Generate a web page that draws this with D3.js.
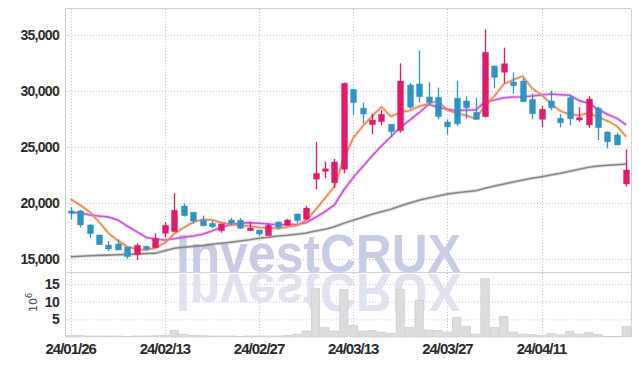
<!DOCTYPE html>
<html>
<head>
<meta charset="utf-8">
<script src="https://cdn.jsdelivr.net/npm/d3@7"></script>
<style>
  html, body { margin: 0; padding: 0; background: #fff; }
  svg { display: block; }
  .tick-label { font-family: "Liberation Sans", Arial, sans-serif; font-weight: bold; fill: #2a2a2a; }
</style>
</head>
<body>
<svg id="chart" width="639" height="366"></svg>
<script>
(function() {
    'use strict';

    const dates = [
        '24/01/26', '24/01/29', '24/01/30', '24/01/31', '24/02/01', '24/02/02', '24/02/05', '24/02/06', '24/02/07', '24/02/08',
        '24/02/13', '24/02/14', '24/02/15', '24/02/16', '24/02/19', '24/02/20', '24/02/21', '24/02/22', '24/02/23', '24/02/26',
        '24/02/27', '24/02/28', '24/02/29', '24/03/04', '24/03/05', '24/03/06', '24/03/07', '24/03/08', '24/03/11', '24/03/12',
        '24/03/13', '24/03/14', '24/03/15', '24/03/18', '24/03/19', '24/03/20', '24/03/21', '24/03/22', '24/03/25', '24/03/26',
        '24/03/27', '24/03/28', '24/03/29', '24/04/01', '24/04/02', '24/04/03', '24/04/04', '24/04/05', '24/04/08', '24/04/09',
        '24/04/11', '24/04/12', '24/04/15', '24/04/16', '24/04/17', '24/04/18', '24/04/19', '24/04/22', '24/04/23', '24/04/24'
    ];

    const open = [
        19290, 19290, 18040, 17140, 16250, 16340, 16070, 15420, 16130, 16010,
        17300, 17440, 19730, 19170, 18480, 18190, 17530, 18480, 18460, 17530,
        17590, 17080, 18300, 18010, 19020, 18550, 22120, 22830, 21810, 23010,
        30150, 28460, 26990, 27260, 27030, 26460, 30540, 30630, 29470, 29440,
        27230, 29350, 29110, 28100, 27710, 32230, 31670, 30800, 30890, 29260,
        27470, 29110, 27560, 29400, 27410, 26970, 28460, 26340, 26070, 21700
    ];
    const high = [
        19620, 19380, 18100, 17170, 16610, 16760, 16070, 16400, 16200, 17300,
        18300, 20870, 19970, 19170, 18870, 18390, 18150, 18660, 18630, 18330,
        17600, 18190, 18350, 18570, 19050, 19730, 25450, 23690, 23930, 30750,
        30200, 28960, 27950, 28300, 27050, 32470, 30720, 33600, 30780, 30300,
        27470, 30920, 29530, 29400, 35510, 32260, 33870, 31670, 31140, 29800,
        28660, 30030, 27950, 29640, 28550, 29550, 28600, 26400, 26280, 24800
    ];
    const low = [
        18550, 17830, 16850, 16250, 15710, 15800, 15030, 14910, 15750, 16000,
        16940, 17440, 18800, 18130, 17900, 17740, 17350, 18010, 17700, 17480,
        17050, 17050, 17650, 17980, 18240, 18500, 21220, 22210, 21340, 22650,
        27860, 27120, 26130, 26940, 25870, 26280, 28370, 28960, 28660, 27470,
        26130, 26880, 27530, 27450, 27650, 30240, 30690, 29730, 29000, 27470,
        26760, 28300, 26760, 26940, 27260, 26720, 25630, 24880, 25150, 21460
    ];
    const close = [
        19080, 18040, 17260, 16280, 15890, 15800, 15210, 16220, 15870, 16850,
        18010, 19350, 18870, 18390, 17970, 17880, 18130, 18190, 17740, 17770,
        17230, 18010, 17830, 18480, 18420, 19550, 22650, 23060, 23660, 30690,
        28960, 27950, 27410, 27920, 26370, 30890, 28550, 29490, 28960, 27710,
        26810, 27080, 28510, 27470, 33460, 31220, 32440, 30470, 29050, 27970,
        28370, 28510, 27170, 27530, 27620, 29290, 26720, 25470, 25180, 22950
    ];
    // volume in millions of shares
    const volume = [
        0.5, 0.4, 0.3, 0.3, 0.3, 0.3, 0.2, 0.3, 0.3, 0.4,
        0.5, 1.9, 0.8, 0.5, 0.4, 0.3, 0.3, 0.3, 0.2, 0.3,
        0.3, 0.3, 0.3, 0.4, 0.8, 1.7, 13.7, 2.7, 1.7, 13.4,
        3.3, 1.7, 1.9, 1.4, 1.0, 13.4, 2.7, 10.4, 2.0, 1.9,
        1.4, 5.5, 3.0, 0.8, 16.5, 2.7, 5.8, 1.4, 0.8, 0.7,
        0.5, 1.0, 0.6, 1.6, 0.8, 1.3, 0.8, 0.2, 0.1, 3.0
    ];
    const ma5 = [
        20330, 19820, 19220, 18330, 17310, 16650, 16090, 15880, 15800, 15990,
        16430, 17260, 17790, 18290, 18520, 18490, 18250, 18110, 17980, 17940,
        17810, 17790, 17720, 17860, 17990, 18460, 19390, 20430, 21470, 23920,
        25800, 26860, 27730, 28590, 27720, 28110, 28230, 28640, 28850, 29120,
        28300, 28010, 27810, 27520, 28670, 29550, 30620, 31010, 31330, 30230,
        29660, 28870, 28210, 27910, 27840, 28020, 27670, 27330, 26860, 25920
    ];
    const ma20 = [
        19150, 19130, 18930, 18840, 18750, 18480, 17950, 17440, 16940, 16760,
        16700, 16810, 16940, 17050, 17210, 17500, 17830, 18060, 18220, 18240,
        18190, 18130, 18060, 18060, 18100, 18240, 18720, 19220, 19820, 21160,
        22280, 23240, 24200, 25090, 25920, 26760, 27410, 28060, 28810, 28550,
        28370, 28240, 28300, 28300, 29020, 29200, 29400, 29470, 29490, 29550,
        29640, 29730, 29670, 29620, 29140, 28900, 28370, 27920, 27560, 26970
    ];
    const ma60 = [
        15200, 15250, 15290, 15320, 15350, 15380, 15410, 15440, 15480, 15520,
        15740, 15960, 16050, 16130, 16190, 16310, 16400, 16490, 16610, 16720,
        16850, 16940, 17050, 17120, 17210, 17320, 17500, 17650, 17880, 18190,
        18450, 18720, 18990, 19220, 19440, 19730, 20000, 20240, 20450, 20630,
        20800, 20920, 21010, 21100, 21310, 21520, 21700, 21880, 22050, 22210,
        22350, 22500, 22650, 22830, 23010, 23190, 23300, 23370, 23420, 23480
    ];
    const priceTicks = [15000, 20000, 25000, 30000, 35000];
    const volumeTicks = [5, 10, 15];
    const dateTicks = ['24/01/26', '24/02/13', '24/02/27', '24/03/13', '24/03/27', '24/04/11'];

    const svg = d3.select('#chart');
    const left = 66, right = 631, top = 9, split = 272, bottom = 337;

    const x = d3.scaleBand().domain(dates).range([left, right]).padding(0);
    const cx = d => x(d) + x.bandwidth() / 2;
    const y = d3.scaleLinear().domain([13839, 37322]).range([split, top]);
    const yv = d3.scaleLinear().domain([0, 18.4]).range([bottom, split]);

    const upColor = '#e31a6c', downColor = '#2e93c7';
    const gridColor = '#c6c9dc';

    const defs = svg.append('defs');
    defs.append('clipPath').attr('id', 'priceClip')
        .append('rect').attr('x', left).attr('y', top).attr('width', right - left).attr('height', split - top);
    defs.append('clipPath').attr('id', 'volClip')
        .append('rect').attr('x', left).attr('y', split + 1).attr('width', right - left).attr('height', bottom - split);

    // grid
    const grid = svg.append('g');
    grid.selectAll('.hg').data(priceTicks).enter().append('line')
        .attr('x1', left).attr('x2', right).attr('y1', d => y(d) + 0.5).attr('y2', d => y(d) + 0.5)
        .attr('stroke', gridColor).attr('stroke-dasharray', '1,2');
    grid.selectAll('.vg').data(volumeTicks).enter().append('line')
        .attr('x1', left).attr('x2', right).attr('y1', d => yv(d) + 0.5).attr('y2', d => yv(d) + 0.5)
        .attr('stroke', gridColor).attr('stroke-dasharray', '1,2');
    grid.selectAll('.dg').data(dateTicks).enter().append('line')
        .attr('x1', d => Math.round(cx(d)) + 0.5).attr('x2', d => Math.round(cx(d)) + 0.5)
        .attr('y1', top).attr('y2', bottom)
        .attr('stroke', '#c2c2d2').attr('stroke-dasharray', '1,2');

    // watermark and its reflection
    svg.append('text')
        .attr('clip-path', 'url(#priceClip)')
        .attr('x', 176).attr('y', split)
        .attr('textLength', 285).attr('lengthAdjust', 'spacingAndGlyphs')
        .style('font-family', '"Liberation Sans", Arial, sans-serif')
        .style('font-weight', 'bold').style('font-size', '54px')
        .attr('fill', '#c3c9e2').attr('opacity', 0.92)
        .text('InvestCRUX');
    svg.append('g').attr('clip-path', 'url(#volClip)')
        .append('text')
        .attr('transform', `translate(0,${2 * split + 2}) scale(1,-1)`)
        .attr('x', 176).attr('y', split)
        .attr('textLength', 285).attr('lengthAdjust', 'spacingAndGlyphs')
        .style('font-family', '"Liberation Sans", Arial, sans-serif')
        .style('font-weight', 'bold').style('font-size', '54px')
        .attr('fill', '#dadded').attr('opacity', 0.85)
        .text('InvestCRUX');

    // volume bars
    svg.append('g').selectAll('rect').data(dates).enter().append('rect')
        .attr('x', d => x(d) + 0.5)
        .attr('y', (d, i) => yv(volume[i]))
        .attr('width', x.bandwidth() - 1)
        .attr('height', (d, i) => bottom - yv(volume[i]))
        .attr('fill', '#dcdcdc').attr('stroke', '#c9c9c9').attr('stroke-width', 0.6);

    // moving averages
    const lineFor = arr => d3.line().x((d, i) => cx(dates[i])).y(d => y(d))(arr);
    const lines = [
        { data: ma60, color: '#858585' },
        { data: ma20, color: '#cc4fe3' },
        { data: ma5, color: '#ef8a52' }
    ];
    const lg = svg.append('g').attr('clip-path', 'url(#priceClip)');
    lines.forEach(l => {
        lg.append('path').attr('d', lineFor(l.data)).attr('fill', 'none')
            .attr('stroke', l.color).attr('stroke-opacity', 0.25).attr('stroke-width', 3.5);
        lg.append('path').attr('d', lineFor(l.data)).attr('fill', 'none')
            .attr('stroke', l.color).attr('stroke-width', 1.6);
    });

    // candles
    const cg = svg.append('g').attr('clip-path', 'url(#priceClip)')
        .selectAll('g').data(dates).enter().append('g');
    const col = i => close[i] >= open[i] ? upColor : downColor;
    cg.append('line')
        .attr('x1', d => Math.round(cx(d)) + 0.5).attr('x2', d => Math.round(cx(d)) + 0.5)
        .attr('y1', (d, i) => y(high[i])).attr('y2', (d, i) => y(low[i]))
        .attr('stroke', (d, i) => col(i)).attr('stroke-width', 1.3);
    cg.append('rect')
        .attr('x', d => Math.round(cx(d)) - 2.5)
        .attr('width', 6)
        .attr('y', (d, i) => y(Math.max(open[i], close[i])))
        .attr('height', (d, i) => Math.max(1.5, Math.abs(y(open[i]) - y(close[i]))))
        .attr('fill', (d, i) => col(i))
        .attr('stroke', (d, i) => col(i)).attr('stroke-opacity', 0.35).attr('stroke-width', 1);

    // frame
    const frame = svg.append('g').attr('stroke', '#d2d2d2').attr('fill', 'none');
    frame.append('line').attr('x1', left - 0.5).attr('x2', left - 0.5).attr('y1', top).attr('y2', bottom);
    frame.append('line').attr('x1', right + 0.5).attr('x2', right + 0.5).attr('y1', top).attr('y2', bottom);
    frame.append('line').attr('x1', left).attr('x2', right).attr('y1', top - 0.5).attr('y2', top - 0.5);
    frame.append('line').attr('x1', left).attr('x2', right).attr('y1', split + 0.5).attr('y2', split + 0.5);

    // axes labels
    const fmt = d3.format(',');
    svg.append('g').selectAll('text').data(priceTicks).enter().append('text')
        .attr('class', 'tick-label')
        .attr('x', 59).attr('y', d => y(d)).attr('dy', '0.36em')
        .attr('text-anchor', 'end').style('font-size', '14px').style('letter-spacing', '-0.7px')
        .text(d => fmt(d));
    svg.append('g').selectAll('text').data(volumeTicks).enter().append('text')
        .attr('class', 'tick-label')
        .attr('x', 59).attr('y', d => yv(d)).attr('dy', '0.36em')
        .attr('text-anchor', 'end').style('font-size', '14px').style('letter-spacing', '-0.7px')
        .text(d => d);
    svg.append('g').selectAll('text').data(dateTicks).enter().append('text')
        .attr('class', 'tick-label')
        .attr('x', d => cx(d)).attr('y', 354)
        .attr('text-anchor', 'middle').style('font-size', '15px').style('letter-spacing', '-1px')
        .text(d => d);

    const unit = svg.append('text')
        .attr('transform', 'translate(37,312) rotate(-90)')
        .style('font-family', '"DejaVu Sans", sans-serif')
        .style('font-size', '11px').attr('fill', '#444');
    unit.append('tspan').text('10');
    unit.append('tspan').attr('dy', '-5').style('font-size', '8px').text('6');
})();
</script>
</body>
</html>
